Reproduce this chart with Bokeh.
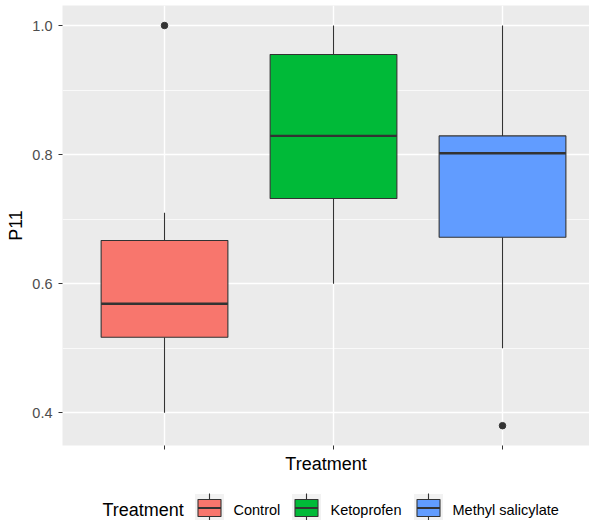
from bokeh.plotting import figure
from bokeh.models import Range1d, FixedTicker, ColumnDataSource
from bokeh.layouts import column
from bokeh.core.properties import value
from bokeh.embed import file_html
from bokeh.resources import INLINE

# ---- data ----
treatments = ["Control", "Ketoprofen", "Methyl salicylate"]
lower_whisker = [0.40, 0.60, 0.50]
q1 = [0.517, 0.732, 0.672]
median = [0.569, 0.829, 0.802]
q3 = [0.667, 0.955, 0.829]
upper_whisker = [0.71, 1.00, 1.00]
outlier_treatment = ["Control", "Methyl salicylate"]
outlier_value = [1.00, 0.38]
colors = ["#F8766D", "#00BA38", "#619CFF"]
y_ticks = [0.4, 0.6, 0.8, 1.0]
y_minor = [0.5, 0.7, 0.9]

FONT = "Liberation Sans"
BOX_W = 0.75
FRAME_LEFT = 62
FIG_W = 589

pos = [treatments.index(t) + 1 for t in treatments]
src = ColumnDataSource(dict(
    x=pos, lo=lower_whisker, q1=q1, med=median, q3=q3, hi=upper_whisker,
    left=[x - BOX_W / 2 for x in pos], right=[x + BOX_W / 2 for x in pos],
    color=colors, name=treatments))
out_src = ColumnDataSource(dict(
    x=[treatments.index(t) + 1 for t in outlier_treatment], y=outlier_value))

p = figure(width=FIG_W, height=480,
           x_range=Range1d(0.3964, 3.5147), y_range=Range1d(0.3493, 1.031),
           output_backend="svg", toolbar_location=None,
           min_border_left=FRAME_LEFT, min_border_right=0, min_border_top=5,
           min_border_bottom=35)
p.background_fill_color = "#EBEBEB"
p.border_fill_color = "white"
p.outline_line_color = None

# axes
p.xaxis.ticker = FixedTicker(ticks=pos)
p.xaxis.major_label_overrides = {x: "" for x in pos}
p.yaxis.ticker = FixedTicker(ticks=y_ticks, minor_ticks=y_minor)
p.yaxis.major_label_overrides = {t: f"{t:.1f}" for t in y_ticks}
for ax in (p.xaxis[0], p.yaxis[0]):
    ax.axis_line_color = None
    ax.major_tick_line_color = "#333333"
    ax.major_tick_in = 0
    ax.major_tick_out = 4
    ax.minor_tick_line_color = None
    ax.major_label_text_font = FONT
    ax.major_label_text_font_size = "14.5px"
    ax.major_label_text_color = "#4D4D4D"
    ax.axis_label_text_font = FONT
    ax.axis_label_text_font_size = "18px"
    ax.axis_label_text_font_style = "normal"
    ax.axis_label_text_color = "black"
p.xaxis.axis_label = "Treatment"
p.yaxis.axis_label = "P11"
p.xaxis.major_label_standoff = 0
p.xaxis.axis_label_standoff = 4
p.yaxis.major_label_standoff = 6
p.yaxis.axis_label_standoff = 3

# grid
p.xgrid.grid_line_color = "white"
p.xgrid.grid_line_width = 1.4
p.ygrid.grid_line_color = "white"
p.ygrid.grid_line_width = 1.4
p.ygrid.minor_grid_line_color = "white"
p.ygrid.minor_grid_line_width = 0.7

# boxplots
p.segment(x0="x", y0="q3", x1="x", y1="hi", source=src, line_color="#333333", line_width=1.1)
p.segment(x0="x", y0="lo", x1="x", y1="q1", source=src, line_color="#333333", line_width=1.1)
p.quad(left="left", right="right", bottom="q1", top="q3", source=src,
       fill_color="color", line_color="#333333", line_width=1.1)
p.segment(x0="left", y0="med", x1="right", y1="med", source=src,
          line_color="#333333", line_width=2.4)
p.scatter(x="x", y="y", source=out_src, size=6.5, color="#333333")

# ---- legend drawn in its own strip (coordinates = picture pixels) ----
lg = figure(width=FIG_W, height=40, x_range=Range1d(FRAME_LEFT, FIG_W),
            y_range=Range1d(520, 480),
            output_backend="svg", toolbar_location=None,
            x_axis_type=None, y_axis_type=None,
            min_border_left=FRAME_LEFT, min_border_right=0,
            min_border_top=0, min_border_bottom=0)
lg.outline_line_color = None
lg.background_fill_color = "white"
lg.border_fill_color = "white"
lg.grid.visible = False

LEG_TOP = 493
key_left = [194, 291, 413]
key_w = 30
kcx = [k + key_w / 2 for k in key_left]
lsrc = ColumnDataSource(dict(
    kl=key_left, kr=[k + key_w for k in key_left], cx=kcx,
    bl=[c - 11.5 for c in kcx], br=[c + 11.5 for c in kcx],
    tx=[k + 39 for k in key_left], color=colors, name=treatments))
lg.quad(left="kl", right="kr", top=LEG_TOP, bottom=LEG_TOP + 30, source=lsrc,
        fill_color="#F2F2F2", line_color="white", line_width=1)
lg.segment(x0="cx", x1="cx", y0=LEG_TOP, y1=LEG_TOP + 30, source=lsrc,
           line_color="#333333", line_width=1.1)
lg.quad(left="bl", right="br", top=LEG_TOP + 6, bottom=LEG_TOP + 23, source=lsrc,
        fill_color="color", line_color="#333333", line_width=1.1)
lg.segment(x0="bl", x1="br", y0=LEG_TOP + 14.5, y1=LEG_TOP + 14.5, source=lsrc,
           line_color="#333333", line_width=2)
lg.text(x="tx", y=LEG_TOP + 16, text="name", source=lsrc, text_font=value(FONT),
        text_font_size="14.5px", text_baseline="middle", text_color="black")
lg.text(x=[102], y=[LEG_TOP + 16], text=["Treatment"], text_font=value(FONT),
        text_font_size="18px", text_baseline="middle", text_color="black")

layout = column(p, lg, spacing=0)
open("out.html", "w").write(file_html(layout, INLINE))
